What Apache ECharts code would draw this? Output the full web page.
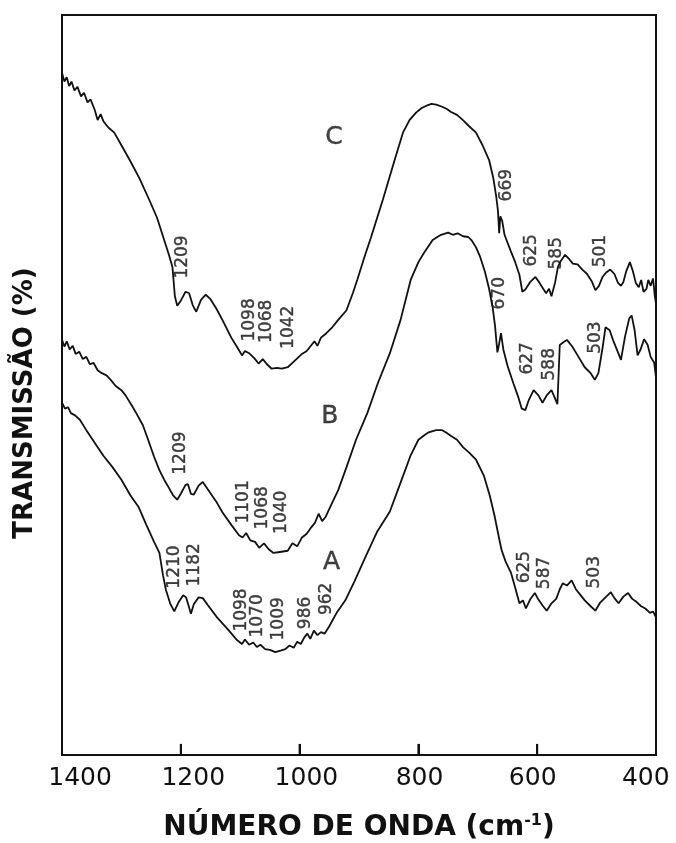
<!DOCTYPE html>
<html>
<head>
<meta charset="utf-8">
<script src="https://cdn.jsdelivr.net/npm/echarts@6/dist/echarts.min.js"></script>
<style>
html,body{margin:0;padding:0;background:#fff;}
#chart{width:676px;height:843px;}
</style>
</head>
<body>
<div id="chart"></div>
<script>
// x ticks (wavenumber, cm-1)
const xTickLabels = [1400, 1200, 1000, 800, 600, 400];
const xInnerTicks = [1200, 1000, 800, 600];

// Spectrum C (top)
const specC = [[1400,92.2],[1396,91.0],[1392,91.6],[1388,90.4],[1384,91.0],[1379,89.8],[1374,90.3],[1368,89.0],[1363,89.5],[1357,88.2],[1352,88.6],[1345,87.2],[1340,85.8],[1335,86.6],[1330,85.6],[1322,84.8],[1312,84.1],[1300,82.4],[1286,80.4],[1270,78.0],[1253,75.0],[1240,72.6],[1228,69.6],[1220,67.6],[1214,65.9],[1210,62.0],[1206,60.7],[1200,61.4],[1192,62.6],[1186,62.4],[1180,60.8],[1174,59.9],[1166,61.5],[1158,62.2],[1150,61.6],[1140,60.3],[1130,58.8],[1115,56.4],[1102,54.7],[1097,54.0],[1092,54.6],[1085,54.3],[1076,53.6],[1069,52.9],[1062,53.5],[1055,52.8],[1047,52.2],[1038,52.3],[1030,52.2],[1020,52.4],[1012,53.0],[1004,53.6],[996,54.2],[988,54.6],[980,55.4],[975,55.9],[970,55.3],[964,56.4],[955,57.0],[945,57.8],[935,58.8],[921,60.1],[910,62.5],[903,64.2],[890,67.5],[880,69.9],[860,75.0],[840,80.4],[826,84.1],[815,85.8],[804,86.8],[795,87.4],[785,87.8],[778,88.0],[770,87.9],[760,87.6],[752,87.3],[745,86.9],[735,86.5],[725,85.8],[715,85.0],[703,84.1],[692,82.4],[681,80.4],[674,78.0],[669,75.5],[666,73.5],[664,70.5],[662,72.8],[659,72.2],[655,70.3],[645,68.2],[637,66.6],[630,64.9],[625,62.6],[620,62.9],[612,63.9],[603,64.6],[596,63.8],[590,63.0],[585,62.4],[580,63.0],[576,62.0],[570,63.8],[565,66.0],[560,66.8],[553,67.6],[546,67.0],[540,66.4],[532,66.3],[524,65.6],[516,65.0],[508,64.0],[502,62.8],[496,63.4],[490,64.6],[484,65.2],[477,65.6],[470,65.0],[464,63.8],[459,63.4],[455,63.9],[450,65.4],[444,66.6],[439,65.4],[434,63.8],[429,63.2],[425,64.2],[421,62.6],[416,63.0],[413,64.2],[409,63.4],[405,64.4],[402,62.0],[400,61.0]];

// Spectrum B (middle)
const specB = [[1400,56.1],[1396,55.2],[1392,55.9],[1387,54.8],[1382,55.3],[1377,54.2],[1371,54.5],[1365,53.5],[1359,53.8],[1353,52.8],[1347,53.0],[1340,52.0],[1333,51.6],[1325,51.3],[1318,50.7],[1310,49.9],[1300,49.3],[1293,48.6],[1283,47.3],[1275,46.2],[1264,44.6],[1255,42.6],[1245,40.3],[1236,38.5],[1228,37.2],[1220,36.1],[1213,35.1],[1206,34.5],[1200,35.3],[1192,36.5],[1188,36.6],[1183,35.3],[1178,35.2],[1170,36.4],[1163,36.9],[1152,35.6],[1140,34.2],[1130,32.8],[1115,31.1],[1102,29.7],[1096,29.4],[1090,30.0],[1083,29.0],[1075,28.8],[1068,28.0],[1060,28.6],[1052,27.8],[1044,27.3],[1036,27.4],[1028,27.5],[1020,27.6],[1012,28.6],[1004,28.2],[996,29.4],[988,29.9],[980,30.8],[974,31.4],[968,32.6],[962,31.6],[956,32.2],[948,33.6],[935,35.8],[921,38.9],[905,42.6],[886,46.2],[868,50.3],[848,54.3],[830,58.8],[813,64.2],[800,66.6],[791,67.8],[776,69.6],[762,70.3],[750,70.6],[742,70.3],[734,70.5],[725,70.1],[716,70.0],[710,69.5],[703,68.6],[696,67.3],[688,65.3],[681,63.0],[675,60.5],[671,58.0],[667,54.4],[664,55.6],[661,57.0],[657,54.8],[650,52.6],[640,50.2],[632,48.4],[626,46.8],[620,46.6],[614,48.0],[606,49.3],[598,48.6],[591,47.6],[584,48.6],[576,49.3],[571,48.4],[566,47.4],[562,55.4],[557,55.7],[550,56.1],[541,55.2],[532,54.0],[520,52.4],[510,51.6],[503,50.7],[497,51.6],[490,55.0],[485,57.8],[478,57.4],[472,56.0],[465,54.6],[459,53.4],[452,56.6],[445,59.0],[441,59.4],[436,57.4],[431,54.0],[426,54.8],[420,56.2],[414,55.4],[409,53.8],[403,53.0],[400,51.0]];

// Spectrum A (bottom)
const specA = [[1400,47.6],[1395,46.8],[1390,47.0],[1385,46.2],[1378,45.9],[1370,45.3],[1359,43.9],[1345,42.2],[1330,40.4],[1315,38.9],[1300,37.2],[1285,35.1],[1271,33.5],[1258,31.1],[1245,28.8],[1236,27.3],[1230,24.3],[1225,22.3],[1218,20.5],[1211,19.4],[1204,20.6],[1196,21.6],[1191,21.3],[1187,20.2],[1183,19.1],[1178,20.4],[1170,21.3],[1163,21.2],[1155,20.3],[1139,18.6],[1120,16.9],[1105,15.5],[1097,15.0],[1092,15.6],[1085,14.9],[1078,15.2],[1072,14.6],[1066,14.9],[1058,14.3],[1050,14.2],[1041,13.9],[1032,14.1],[1024,14.3],[1017,14.8],[1010,14.5],[1004,15.3],[998,15.0],[992,15.9],[987,16.4],[982,15.7],[976,16.8],[970,16.2],[964,16.6],[958,16.4],[950,17.4],[937,19.3],[923,20.9],[908,23.4],[890,26.6],[870,30.1],[848,32.9],[830,36.8],[813,40.5],[800,42.6],[790,43.2],[783,43.6],[770,43.9],[760,43.9],[754,43.6],[745,43.1],[735,42.6],[725,41.6],[715,40.9],[703,39.9],[690,37.8],[680,35.1],[672,32.4],[666,30.0],[660,27.7],[653,26.1],[644,24.6],[637,22.6],[630,20.5],[624,20.9],[619,19.8],[612,21.0],[604,21.9],[598,21.0],[590,20.1],[584,19.5],[576,20.5],[568,21.1],[562,22.4],[557,23.2],[550,22.9],[542,23.6],[535,22.4],[527,21.6],[520,20.9],[510,20.1],[502,19.5],[494,20.6],[485,21.3],[476,22.0],[470,21.2],[463,20.5],[455,21.4],[447,21.9],[440,21.1],[433,20.7],[425,20.1],[418,19.8],[410,19.2],[405,19.4],[400,18.6]];

// Peak annotations [wavenumber position, transmission position, text]
const peaksC = [[1197,67.3,'1209'],[1085,58.8,'1098'],[1055,58.6,'1068'],[1018,57.8,'1042'],[651,77.0,'669'],[609,68.2,'625'],[568,67.8,'585'],[494,68.1,'501']];
const peaksB = [[1201,40.8,'1209'],[1095,34.2,'1101'],[1062,33.4,'1068'],[1030,32.8,'1040'],[664,62.4,'670'],[617,53.6,'627'],[580,52.8,'588'],[502,56.4,'503']];
const peaksA = [[1210,25.4,'1210'],[1176,25.7,'1182'],[1098,19.6,'1098'],[1070,18.8,'1070'],[1036,18.4,'1009'],[990,19.2,'986'],[955,21.1,'962'],[622,25.4,'625'],[587,24.6,'587'],[504,24.7,'503']];
const curveNames = [[942,83.5,'C'],[949,45.7,'B'],[946,26.0,'A']];

const INK = '#111111';
const FONT = 'DejaVu Sans';
const TICK_TOP = 1.5;   // tick height in axis units

const chart = echarts.init(document.getElementById('chart'), null, {renderer:'canvas'});

function lineSeries(data, width){
  return {type:'line', data:data, xAxisIndex:0, yAxisIndex:0, showSymbol:false, symbol:'none',
    lineStyle:{color:INK, width:width || 1.8}, silent:true, z:3};
}
function labelSeries(data, rotate, size){
  return {type:'scatter', data:data, xAxisIndex:0, yAxisIndex:0, symbol:'circle', symbolSize:1,
    itemStyle:{color:'rgba(0,0,0,0)'}, silent:true, z:4,
    label:{show:true, position:'inside', rotate:rotate, color:INK, fontFamily:FONT,
      fontSize:size, textBorderColor:INK, textBorderWidth:0.4, formatter:p=>p.value[2]}};
}
// one short vertical segment per inner tick
const tickSeries = xInnerTicks.map(v => {
  const s = lineSeries([[v, 0.1], [v, TICK_TOP]], 2);
  s.z = 6; s.clip = false;
  return s;
});

const option = {
  animation:false,
  backgroundColor:'#ffffff',
  grid:{left:62, right:20, top:15, bottom:88, show:true, borderColor:INK, borderWidth:2,
        backgroundColor:'transparent', outerBoundsMode:'none', containLabel:false},
  xAxis:[
    {type:'value', inverse:true, min:400, max:1400, interval:200,
     axisLine:{show:true, lineStyle:{color:INK, width:2}}, splitLine:{show:false},
     axisTick:{show:true, inside:true, length:11, lineStyle:{color:INK, width:2}},
     axisLabel:{show:false},
     name:'NÚMERO DE ONDA (cm{sup|-1})', nameLocation:'middle', nameGap:58,
     nameTextStyle:{color:INK, fontFamily:FONT, fontSize:28, fontWeight:'bold',
       rich:{sup:{fontSize:16, fontWeight:'bold', fontFamily:FONT, color:INK, verticalAlign:'top', padding:[0,0,14,0]}}}},
    {type:'value', inverse:true, min:382, max:1432, position:'bottom',
     axisLine:{show:false}, splitLine:{show:false}, axisTick:{show:false},
     axisLabel:{show:true, customValues:xTickLabels, margin:11, color:INK, fontFamily:FONT, fontSize:25,
       formatter:v=> (v % 200 === 0 ? String(v) : '')}}
  ],
  yAxis:{type:'value', min:0, max:100, show:false},
  graphic:[{type:'text', x:25, y:403, rotation:Math.PI/2,
    style:{text:'TRANSMISSÃO (%)', fill:INK, font:'bold 26px "DejaVu Sans"', textAlign:'center', textVerticalAlign:'middle'}}],
  series:[
    lineSeries(specC), lineSeries(specB), lineSeries(specA),
    ...tickSeries,
    labelSeries(peaksC, 90, 17), labelSeries(peaksB, 90, 17), labelSeries(peaksA, 90, 17),
    labelSeries(curveNames, 0, 25)
  ]
};
chart.setOption(option);
</script>
</body>
</html>
